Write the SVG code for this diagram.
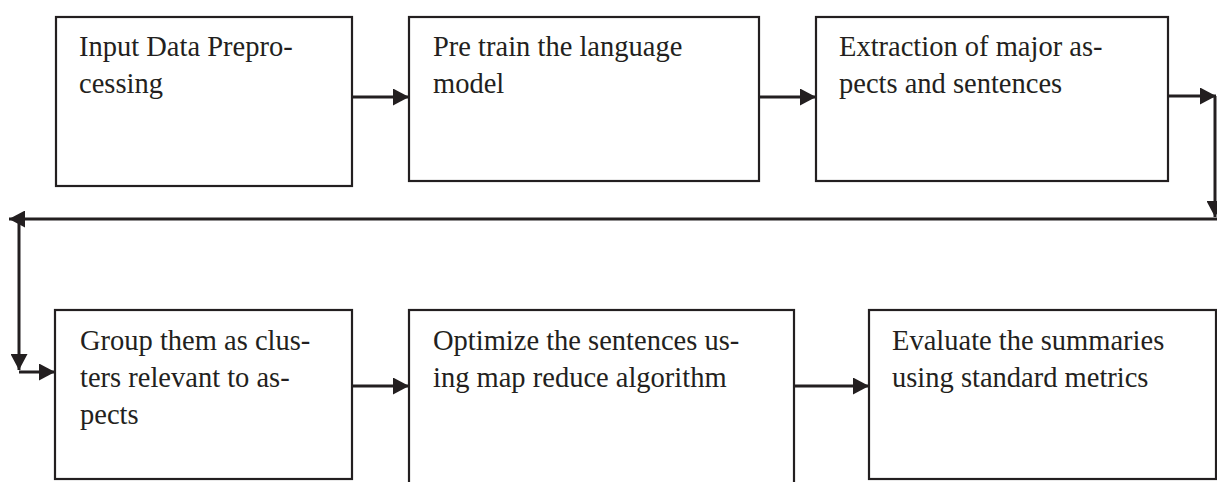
<svg xmlns="http://www.w3.org/2000/svg" width="1217" height="482" viewBox="0 0 1217 482">
  <style>
    .box { fill: #ffffff; stroke: #231f20; stroke-width: 2.2; }
    .lbl { font-family: "Liberation Serif", "Times New Roman", serif; font-size: 28.5px; fill: #231f20; }
    .wire { fill: none; stroke: #231f20; stroke-width: 3; }
  </style>
  <defs>
    <marker id="head" viewBox="0 0 16 17" refX="16" refY="8.5" markerWidth="16" markerHeight="17" markerUnits="userSpaceOnUse" orient="auto">
      <path d="M0,0 L16,8.5 L0,17 Z" fill="#231f20"/>
    </marker>
  </defs>
  <rect width="1217" height="482" fill="#ffffff"/>

  <!-- connectors -->
  <g id="connectors">
    <line class="wire" x1="352" y1="97" x2="409" y2="97" marker-end="url(#head)"/>
    <line class="wire" x1="759" y1="97" x2="816" y2="97" marker-end="url(#head)"/>
    <line class="wire" x1="1168" y1="96" x2="1216" y2="96" marker-end="url(#head)"/>
    <line class="wire" x1="1215" y1="96" x2="1215" y2="217" marker-end="url(#head)"/>
    <line class="wire" x1="1217" y1="219" x2="9" y2="219" marker-end="url(#head)"/>
    <line class="wire" x1="19" y1="219" x2="19" y2="370" marker-end="url(#head)"/>
    <line class="wire" x1="19" y1="372" x2="55" y2="372" marker-end="url(#head)"/>
    <line class="wire" x1="352" y1="386" x2="409" y2="386" marker-end="url(#head)"/>
    <line class="wire" x1="794" y1="386" x2="869" y2="386" marker-end="url(#head)"/>
  </g>

  <!-- top row -->
  <g id="preprocess">
    <rect class="box" x="56" y="17" width="296" height="169"/>
    <text class="lbl" x="79" y="56">Input Data Prepro-</text>
    <text class="lbl" x="79" y="93">cessing</text>
  </g>
  <g id="pretrain">
    <rect class="box" x="409" y="17" width="350" height="164"/>
    <text class="lbl" x="433" y="56">Pre train the language</text>
    <text class="lbl" x="433" y="93">model</text>
  </g>
  <g id="extraction">
    <rect class="box" x="816" y="17" width="352" height="164"/>
    <text class="lbl" x="839" y="56">Extraction of major as-</text>
    <text class="lbl" x="839" y="93">pects and sentences</text>
  </g>

  <!-- bottom row -->
  <g id="grouping">
    <rect class="box" x="55" y="310" width="297" height="169"/>
    <text class="lbl" x="80" y="350">Group them as clus-</text>
    <text class="lbl" x="80" y="387">ters relevant to as-</text>
    <text class="lbl" x="80" y="424">pects</text>
  </g>
  <g id="optimize">
    <rect class="box" x="409" y="310" width="385" height="200"/>
    <text class="lbl" x="433" y="350">Optimize the sentences us-</text>
    <text class="lbl" x="433" y="387">ing map reduce algorithm</text>
  </g>
  <g id="evaluate">
    <rect class="box" x="869" y="310" width="347" height="169"/>
    <text class="lbl" x="892" y="350">Evaluate the summaries</text>
    <text class="lbl" x="892" y="387">using standard metrics</text>
  </g>
</svg>
